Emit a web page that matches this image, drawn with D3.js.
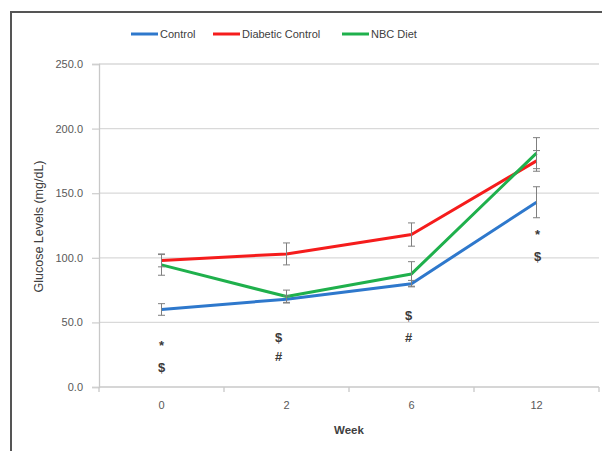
<!DOCTYPE html>
<html>
<head>
<meta charset="utf-8">
<script src="https://cdn.jsdelivr.net/npm/d3@7"></script>
<style>
  body { margin: 0; background: #fff; }
  svg { display: block; font-family: "Liberation Sans", "DejaVu Sans", sans-serif; }
</style>
</head>
<body>
<svg id="chart" width="602" height="451"></svg>
<script>
// Weeks on the category axis
const weeks = ["0", "2", "6", "12"];
// Mean glucose per group (mg/dL)
const controlMean  = [60, 68, 80, 143];
const diabeticMean = [98, 103, 118, 175];
const nbcMean      = [94.5, 70, 87.5, 181];
// Standard error per group
const controlErr   = [4.5, 2.5, 2.5, 12];
const diabeticErr  = [5, 8.5, 9, 8];
const nbcErr       = [8, 5, 9.5, 12];
// Y axis ticks
const yTicks = [0, 50, 100, 150, 200, 250];
// Significance symbols: week, symbol, glucose level where it sits
const sigWeek   = ["0", "0", "2", "2", "6", "6", "12", "12"];
const sigSymbol = ["*", "$", "$", "#", "$", "#", "*", "$"];
const sigLevel  = [32.5, 15.5, 38.2, 23.5, 55, 38.7, 118, 101];

const series = [
  { name: "Control",          color: "#2e78cc", mean: controlMean,  err: controlErr },
  { name: "Diabetic Control", color: "#f51c1c", mean: diabeticMean, err: diabeticErr },
  { name: "NBC Diet",         color: "#1fb04c", mean: nbcMean,      err: nbcErr }
];

const svg = d3.select("#chart");
const W = 602, H = 451;
const plot = { left: 99, right: 599, top: 64, bottom: 387 };

// Outer frame
svg.append("rect")
  .attr("x", 11).attr("y", 12)
  .attr("width", W + 10).attr("height", H + 10)
  .attr("fill", "none").attr("stroke", "#555").attr("stroke-width", 2);

const x = d3.scaleBand().domain(weeks).range([plot.left, plot.right]);
const y = d3.scaleLinear().domain([0, 250]).range([plot.bottom, plot.top]);
const cx = w => x(w) + x.bandwidth() / 2;

// Gridlines
svg.append("g")
  .selectAll("line")
  .data(yTicks.filter(t => t > 0))
  .join("line")
  .attr("x1", plot.left).attr("x2", plot.right)
  .attr("y1", d => y(d)).attr("y2", d => y(d))
  .attr("stroke", "#d9d9d9").attr("stroke-width", 1.3);

// Y axis
const yAxis = svg.append("g")
  .attr("transform", `translate(${plot.left},0)`)
  .call(d3.axisLeft(y).tickValues(yTicks).tickFormat(d3.format(".1f")).tickSize(7).tickPadding(9));
yAxis.select(".domain").attr("stroke", "#c8c8c8").attr("stroke-width", 1.3);
yAxis.selectAll(".tick line").attr("stroke", "#d0d0d0").attr("stroke-width", 1.3);
yAxis.selectAll("text").attr("fill", "#595959").style("font-size", "11px");

// X axis with ticks on category boundaries
const xAxisG = svg.append("g").attr("transform", `translate(0,${plot.bottom})`);
xAxisG.append("line")
  .attr("x1", plot.left).attr("x2", plot.right)
  .attr("stroke", "#c8c8c8").attr("stroke-width", 1.3);
const bounds = weeks.map(w => x(w)).concat([plot.right]);
xAxisG.selectAll("line.tk")
  .data(bounds)
  .join("line").attr("class", "tk")
  .attr("x1", d => d).attr("x2", d => d)
  .attr("y1", 0).attr("y2", 5)
  .attr("stroke", "#c8c8c8").attr("stroke-width", 1.3);
xAxisG.selectAll("text")
  .data(weeks)
  .join("text")
  .attr("x", d => cx(d)).attr("y", 22)
  .attr("text-anchor", "middle")
  .attr("fill", "#595959").style("font-size", "11px")
  .text(d => d);

// Axis titles
svg.append("text")
  .attr("x", (plot.left + plot.right) / 2).attr("y", 434)
  .attr("text-anchor", "middle")
  .attr("font-weight", "bold").attr("fill", "#404040").style("font-size", "11.5px")
  .text("Week");
svg.append("text")
  .attr("transform", `translate(43,${(plot.top + plot.bottom) / 2 + 1}) rotate(-90)`)
  .attr("text-anchor", "middle")
  .attr("fill", "#404040").style("font-size", "12.5px")
  .text("Glucose Levels (mg/dL)");

// Lines
const line = d3.line().x((d, i) => cx(weeks[i])).y(d => y(d));
series.forEach(s => {
  svg.append("path")
    .datum(s.mean)
    .attr("d", line)
    .attr("fill", "none")
    .attr("stroke", s.color)
    .attr("stroke-width", 3)
    .attr("stroke-linejoin", "round");
});

// Error bars
series.forEach(s => {
  const g = svg.append("g");
  s.mean.forEach((m, i) => {
    const px = cx(weeks[i]);
    const lo = y(m - s.err[i]), hi = y(m + s.err[i]);
    g.append("line").attr("x1", px).attr("x2", px).attr("y1", lo).attr("y2", hi)
      .attr("stroke", "#7f7f7f").attr("stroke-width", 1);
    [lo, hi].forEach(v => g.append("line")
      .attr("x1", px - 3.5).attr("x2", px + 3.5).attr("y1", v).attr("y2", v)
      .attr("stroke", "#7f7f7f").attr("stroke-width", 1));
  });
});

// Significance symbols (the week-2 pair sits a little left of centre)
const symbolShift = { "0": 0, "2": -8, "6": -3, "12": 1 };
svg.append("g")
  .selectAll("text")
  .data(sigSymbol.map((s, i) => ({ s, w: sigWeek[i], v: sigLevel[i] })))
  .join("text")
  .attr("x", d => cx(d.w) + symbolShift[d.w]).attr("y", d => y(d.v))
  .attr("dy", "0.35em")
  .attr("text-anchor", "middle")
  .attr("font-weight", "bold")
  .attr("fill", "#3a3a3a").style("font-size", "13px")
  .text(d => d.s);

// Legend
const legend = svg.append("g").attr("transform", "translate(131,34)");
const legendX = [0, 82, 211];
series.forEach((s, i) => {
  const g = legend.append("g").attr("transform", `translate(${legendX[i]},0)`);
  g.append("line").attr("x1", 0).attr("x2", 27).attr("y1", 0).attr("y2", 0)
    .attr("stroke", s.color).attr("stroke-width", 3);
  g.append("text").attr("x", 29).attr("y", 0).attr("dy", "0.35em")
    .attr("fill", "#404040").style("font-size", "11px")
    .text(s.name);
});
</script>
</body>
</html>
